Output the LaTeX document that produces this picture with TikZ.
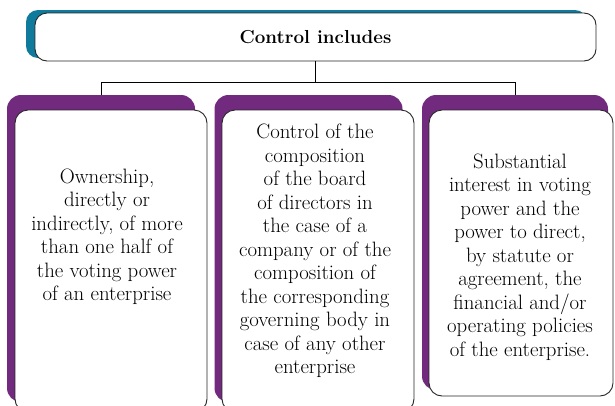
\documentclass[tikz,border=0pt]{standalone}
\usepackage{xcolor}
\definecolor{headteal}{HTML}{0F7A9C}
\definecolor{cardpurple}{HTML}{722A7E}
\definecolor{edge}{HTML}{262626}
\usepackage{tikz}
\usetikzlibrary{positioning,calc}

\begin{document}
\begin{tikzpicture}[
  x=1pt, y=-1pt,
  headbg/.style={fill=headteal, rounded corners=12pt, inner sep=0pt,
    minimum width=561pt, minimum height=48pt},
  head/.style={draw=edge, line width=0.9pt, fill=white, rounded corners=12pt,
    inner sep=0pt, minimum width=561pt, minimum height=48pt,
    font=\fontsize{18.8}{22}\selectfont\bfseries},
  cardbg/.style={fill=cardpurple, rounded corners=14pt, inner sep=0pt,
    minimum width=188pt, minimum height=307pt},
  card/.style={draw=edge, line width=0.9pt, fill=white, rounded corners=13pt,
    inner sep=0pt, minimum width=192pt, minimum height=302pt},
  txt/.style={align=center, inner sep=0pt,
    font=\fontsize{20.8}{23.5}\selectfont},
  link/.style={draw=black, line width=0.9pt}
]
\useasboundingbox (0,0) rectangle (615,405);
\clip (0,0) rectangle (615,405);

% heading
\node[headbg] (title-bg) at (306.5,34) {};
\node[head] (title) at (315.5,37) {Control includes};

% three cards
\node[cardbg] (own-bg) at (101,248.5) {};
\node[card] (own) at (111,261) {};
\node[cardbg] (ctrl-bg) at (308.5,248.5) {};
\node[card] (ctrl) at (318,261) {};
\node[cardbg, minimum width=186pt, minimum height=295pt] (sub-bg) at (515,242.5) {};
\node[card, minimum width=184pt, minimum height=286pt] (sub) at (521,253) {};

\node[txt] (own-txt) at (107,237)
  {Ownership,\\ directly or\\ indirectly, of more\\ than one half of\\
   the voting power\\ of an enterprise};
\node[txt] (ctrl-txt) at (315,251)
  {Control of the\\ composition\\ of the board\\ of directors in\\
   the case of a\\ company or of the\\ composition of\\
   the corresponding\\ governing body in\\ case of any other\\ enterprise};
\node[txt] (sub-txt) at (520,257)
  {Substantial\\ interest in voting\\ power and the\\ power to direct,\\
   by statute or\\ agreement, the\\ financial and/or\\
   operating policies\\ of the enterprise.};

% connectors
\coordinate (junc) at ($(title.south)+(0,21)$);
\draw[link] (title.south) -- (junc);
\draw[link] (own-bg.north) |- (junc) -| (sub-bg.north);
\end{tikzpicture}
\end{document}
